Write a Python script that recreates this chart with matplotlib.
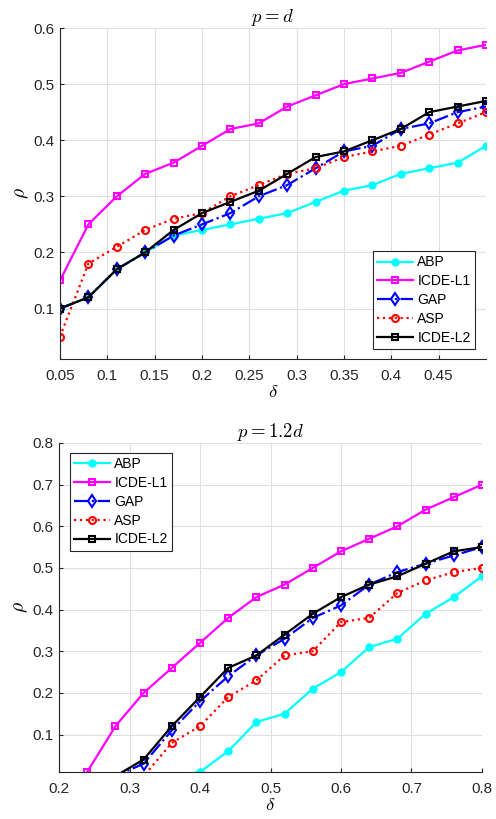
import matplotlib
matplotlib.use('Agg')
import matplotlib.pyplot as plt

plt.rcParams['font.family'] = ['Liberation Sans', 'DejaVu Sans']
plt.rcParams['mathtext.fontset'] = 'cm'

names = ['ABP', 'ICDE-L1', 'GAP', 'ASP', 'ICDE-L2']

# p = d
delta_top = [0.05, 0.08, 0.11, 0.14, 0.17, 0.20, 0.23, 0.26, 0.29, 0.32,
             0.35, 0.38, 0.41, 0.44, 0.47, 0.50]
abp_top = [0.10, 0.12, 0.17, 0.20, 0.23, 0.24, 0.25, 0.26, 0.27, 0.29,
           0.31, 0.32, 0.34, 0.35, 0.36, 0.39]
l1_top = [0.15, 0.25, 0.30, 0.34, 0.36, 0.39, 0.42, 0.43, 0.46, 0.48,
          0.50, 0.51, 0.52, 0.54, 0.56, 0.57]
gap_top = [0.10, 0.12, 0.17, 0.20, 0.23, 0.25, 0.27, 0.30, 0.32, 0.35,
           0.38, 0.39, 0.42, 0.43, 0.45, 0.46]
asp_top = [0.05, 0.18, 0.21, 0.24, 0.26, 0.27, 0.30, 0.32, 0.34, 0.35,
           0.37, 0.38, 0.39, 0.41, 0.43, 0.45]
l2_top = [0.10, 0.12, 0.17, 0.20, 0.24, 0.27, 0.29, 0.31, 0.34, 0.37,
          0.38, 0.40, 0.42, 0.45, 0.46, 0.47]

# p = 1.2d
delta_bot = [0.24, 0.28, 0.32, 0.36, 0.40, 0.44, 0.48, 0.52, 0.56, 0.60,
             0.64, 0.68, 0.72, 0.76, 0.80]
abp_bot = [0.0, 0.0, 0.0, 0.0, 0.01, 0.06, 0.13, 0.15, 0.21, 0.25,
           0.31, 0.33, 0.39, 0.43, 0.48]
l1_bot = [0.01, 0.12, 0.20, 0.26, 0.32, 0.38, 0.43, 0.46, 0.50, 0.54,
          0.57, 0.60, 0.64, 0.67, 0.70]
gap_bot = [0.0, 0.0, 0.03, 0.11, 0.18, 0.24, 0.29, 0.33, 0.38, 0.41,
           0.46, 0.49, 0.51, 0.53, 0.55]
asp_bot = [0.0, 0.0, 0.0, 0.08, 0.12, 0.19, 0.23, 0.29, 0.30, 0.37,
           0.38, 0.44, 0.47, 0.49, 0.50]
l2_bot = [0.0, 0.0, 0.04, 0.12, 0.19, 0.26, 0.29, 0.34, 0.39, 0.43,
          0.46, 0.48, 0.51, 0.54, 0.55]

styles = [
    dict(color='#00ffff', ls='-', marker='o', mfc='#00ffff', ms=4.5),
    dict(color='#ff00ff', ls='-', marker='s', mfc='none', ms=5),
    dict(color='#0000ff', ls='-.', marker='d', mfc='none', ms=6),
    dict(color='#ff0000', ls=':', marker='o', mfc='none', ms=5),
    dict(color='#000000', ls='-', marker='s', mfc='none', ms=5),
]


def draw(ax, x, series, title, xlim, ylim, xticks, yticks, legend_loc, legend_anchor):
    for y, name, st in zip(series, names, styles):
        # markers only where the point lies inside the y range
        shown = [v >= ylim[0] for v in y]
        ax.plot(x, y, label=name, lw=1.6, mew=1.5, markevery=shown, **st)
    ax.set_xlim(*xlim)
    ax.set_ylim(*ylim)
    ax.set_xticks(xticks)
    ax.set_yticks(yticks)
    ax.set_xticklabels([('%g' % t) for t in xticks])
    ax.set_yticklabels([('%g' % t) for t in yticks])
    ax.grid(True, color='#e0e0e0', lw=0.8)
    ax.set_axisbelow(True)
    for s in ['top', 'right']:
        ax.spines[s].set_visible(False)
    for s in ['left', 'bottom']:
        ax.spines[s].set_color('#262626')
        ax.spines[s].set_linewidth(0.8)
    ax.tick_params(direction='in', length=3, labelsize=11, colors='#262626')
    ax.tick_params(axis='x', pad=7)
    ax.tick_params(axis='y', pad=4)
    ax.set_title(title, fontsize=13.5, pad=4)
    ax.set_xlabel(r'$\delta$', fontsize=13.5, labelpad=1)
    ax.set_ylabel(r'$\rho$', fontsize=14, labelpad=2)
    leg = ax.legend(loc=legend_loc, bbox_to_anchor=legend_anchor, fontsize=10,
                    fancybox=False, framealpha=1, edgecolor='#262626',
                    handlelength=2.6, handletextpad=0.3, borderpad=0.3,
                    labelspacing=0.35, borderaxespad=0)
    leg.get_frame().set_linewidth(0.8)


fig = plt.figure(figsize=(4.96, 8.19), dpi=100)
ax1 = fig.add_axes([60 / 496, 1 - 359 / 819, 426 / 496, 331 / 819])
ax2 = fig.add_axes([59 / 496, 1 - 772 / 819, 423 / 496, 329 / 819])

draw(ax1, delta_top, [abp_top, l1_top, gap_top, asp_top, l2_top], r'$p=d$',
     (0.05, 0.5), (0.01, 0.6), [0.05, 0.1, 0.15, 0.2, 0.25, 0.3, 0.35, 0.4, 0.45],
     [0.1, 0.2, 0.3, 0.4, 0.5, 0.6], 'lower right', (0.974, 0.03))
draw(ax2, delta_bot, [abp_bot, l1_bot, gap_bot, asp_bot, l2_bot], r'$p=1.2d$',
     (0.2, 0.8), (0.01, 0.8), [0.2, 0.3, 0.4, 0.5, 0.6, 0.7, 0.8],
     [0.1, 0.2, 0.3, 0.4, 0.5, 0.6, 0.7, 0.8], 'upper left', (0.026, 0.97))

fig.savefig('out.png', dpi=100)
